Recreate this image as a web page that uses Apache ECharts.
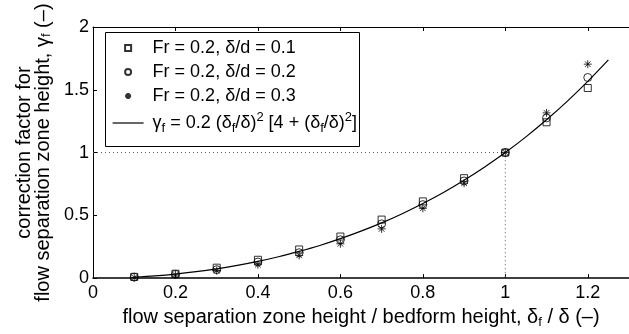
<!DOCTYPE html>
<html>
<head>
<meta charset="utf-8">
<script src="https://cdn.jsdelivr.net/npm/echarts@6/dist/echarts.min.js"></script>
<style>
  html, body { margin: 0; padding: 0; background: #fff; }
  #chart { width: 629px; height: 334px; }
</style>
</head>
<body>
<div id="chart"></div>
<script>
// measured points, x = delta_f / delta
const xPoints = [0.1, 0.2, 0.3, 0.4, 0.5, 0.6, 0.7, 0.8, 0.9, 1.0, 1.1, 1.2];
const sq01 = [0.010, 0.035, 0.083, 0.146, 0.228, 0.331, 0.466, 0.611, 0.796, 1.0, 1.241, 1.514];
const ci02 = [0.008, 0.030, 0.067, 0.128, 0.202, 0.305, 0.432, 0.585, 0.774, 1.0, 1.276, 1.598];
const st03 = [0.005, 0.025, 0.060, 0.107, 0.181, 0.273, 0.392, 0.556, 0.756, 1.0, 1.316, 1.704];

// fitted curve
const xCurve = [0.1, 0.15, 0.2, 0.25, 0.3, 0.35, 0.4, 0.45, 0.5, 0.55, 0.6, 0.65, 0.7,
  0.75, 0.8, 0.85, 0.9, 0.95, 1.0, 1.05, 1.1, 1.15, 1.2, 1.25];
const yCurve = [0.008, 0.018, 0.032, 0.051, 0.074, 0.101, 0.133, 0.170, 0.213, 0.260,
  0.314, 0.374, 0.440, 0.513, 0.594, 0.682, 0.779, 0.885, 1.0, 1.125, 1.261, 1.408,
  1.567, 1.738];

// dotted guide at (1, 1)
const guide = [[0, 1], [1, 1], [1, 0]];

const xTicks = ['0', '0.2', '0.4', '0.6', '0.8', '1', '1.2'];
const yTicks = ['0', '0.5', '1', '1.5', '2'];

const names = ['Fr = 0.2, δ/d = 0.1', 'Fr = 0.2, δ/d = 0.2', 'Fr = 0.2, δ/d = 0.3', 'curve'];

const font = 'Liberation Sans, Arial, sans-serif';
const square = 'path://M0,0 L10,0 L10,10 L0,10 Z';
const star = 'path://M5,0 L5,10 M0,5 L10,5 M1.5,1.5 L8.5,8.5 M1.5,8.5 L8.5,1.5';

const pairs = (xs, ys) => xs.map((x, i) => [x, ys[i]]);

// rich styles for sub / superscripts
const richText = (size, lh) => ({
  t: { fontFamily: font, fontSize: size, color: '#000', lineHeight: lh },
  sub: { fontFamily: font, fontSize: 13, color: '#000', lineHeight: 13, verticalAlign: 'bottom' },
  sup: { fontFamily: font, fontSize: 13, color: '#000', lineHeight: 13, verticalAlign: 'top' },
});

const chart = echarts.init(document.getElementById('chart'));

const option = {
  backgroundColor: '#fff',
  animation: false,
  textStyle: { fontFamily: font, color: '#000' },
  grid: { left: 93, top: 27, width: 543, height: 253, containLabel: false },
  graphic: [
    {
      type: 'rect',
      z: 50,
      shape: { x: 105.5, y: 32.5, width: 254, height: 114 },
      style: { fill: '#fff', stroke: '#000', lineWidth: 1 },
    },
  ],
  legend: {
    z: 60,
    orient: 'vertical',
    left: 112,
    top: 39,
    itemWidth: 31,
    itemHeight: 6,
    itemGap: 6,
    padding: 0,
    data: [
      { name: names[0] },
      { name: names[1] },
      { name: names[2] },
      { name: names[3], itemStyle: { opacity: 0 }, lineStyle: { color: '#000', width: 1.2, opacity: 1 } },
    ],
    textStyle: {
      fontFamily: font,
      fontSize: 18,
      color: '#000',
      padding: [0, 0, 0, 4],
      rich: richText(18, 24),
    },
    formatter: function (n) {
      if (n === 'curve') {
        return '{t|γ}{sub|f}{t| = 0.2 (δ}{sub|f}{t|/δ)}{sup|2}{t| [4 + (δ}{sub|f}{t|/δ)}{sup|2}{t|]}';
      }
      return n;
    },
  },
  xAxis: [
    {
      type: 'value',
      min: 0,
      max: 1.3,
      interval: 0.2,
      name: '{t|flow separation zone height / bedform height, δ}{sub|f}{t| / δ (–)}',
      nameLocation: 'middle',
      nameGap: 21,
      nameTextStyle: {
        fontFamily: font,
        fontSize: 20,
        color: '#000',
        verticalAlign: 'top',
        rich: richText(20, 24),
      },
      axisLine: { show: true, onZero: false, lineStyle: { color: '#000', width: 1.5 } },
      axisTick: { show: true, inside: true, length: 4, lineStyle: { color: '#000' } },
      axisLabel: {
        margin: 6,
        fontFamily: font,
        fontSize: 18,
        color: '#000',
        showMaxLabel: false,
        formatter: function (v) {
          const i = Math.round(v / 0.2);
          return xTicks[i] !== undefined ? xTicks[i] : '';
        },
      },
      splitLine: { show: false },
    },
    {
      type: 'value',
      position: 'top',
      min: 0,
      max: 1.3,
      interval: 0.2,
      axisLine: { show: true, onZero: false, lineStyle: { color: '#000', width: 1 } },
      axisTick: { show: true, inside: true, length: 4, lineStyle: { color: '#000' } },
      axisLabel: { show: false },
      splitLine: { show: false },
    },
  ],
  yAxis: {
    type: 'value',
    min: 0,
    max: 2,
    interval: 0.5,
    name: '{t|correction factor for}\n{t|flow separation zone height, γ}{sub|f}{t| (–)}',
    nameLocation: 'middle',
    nameRotate: 90,
    nameGap: 40,
    nameTextStyle: {
      fontFamily: font,
      fontSize: 20,
      color: '#000',
      lineHeight: 19,
      rich: richText(20, 19),
    },
    axisLine: { show: true, onZero: false, lineStyle: { color: '#000', width: 1 } },
    axisTick: { show: true, inside: true, length: 4, lineStyle: { color: '#000' } },
    axisLabel: {
      margin: 4,
      fontFamily: font,
      fontSize: 18,
      color: '#000',
      formatter: function (v) {
        const i = Math.round(v / 0.5);
        return yTicks[i] !== undefined ? yTicks[i] : '';
      },
    },
    splitLine: { show: false },
  },
  series: [
    {
      name: 'guide',
      type: 'line',
      data: guide,
      symbol: 'none',
      silent: true,
      lineStyle: { color: '#555', width: 1, type: [1, 3] },
      z: 1,
    },
    {
      name: names[0],
      type: 'scatter',
      data: pairs(xPoints, sq01),
      symbol: square,
      symbolSize: 7,
      itemStyle: { color: 'transparent', borderColor: '#000', borderWidth: 1 },
      z: 3,
    },
    {
      name: names[1],
      type: 'scatter',
      data: pairs(xPoints, ci02),
      symbol: 'circle',
      symbolSize: 8,
      itemStyle: { color: 'transparent', borderColor: '#000', borderWidth: 1 },
      z: 3,
    },
    {
      name: names[2],
      type: 'scatter',
      data: pairs(xPoints, st03),
      symbol: star,
      symbolSize: 8,
      itemStyle: { color: 'none', borderColor: '#000', borderWidth: 1 },
      z: 3,
    },
    {
      name: names[3],
      type: 'line',
      data: pairs(xCurve, yCurve),
      symbol: 'none',
      smooth: 0.3,
      lineStyle: { color: '#000', width: 1.2 },
      itemStyle: { color: '#000' },
      z: 2,
    },
  ],
};

chart.setOption(option);
</script>
</body>
</html>
